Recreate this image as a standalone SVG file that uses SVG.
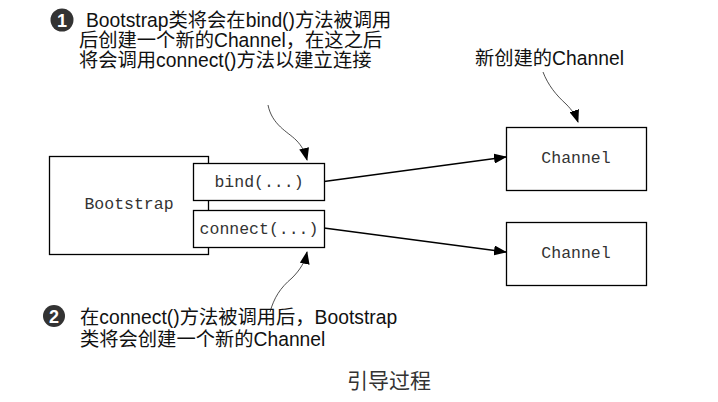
<svg xmlns="http://www.w3.org/2000/svg" width="718" height="402" viewBox="0 0 718 402">
<defs>
<marker id="ah" markerWidth="13" markerHeight="10" refX="12" refY="5" orient="auto" markerUnits="userSpaceOnUse">
<path d="M0,0 L13,5 L0,10 Z" fill="#000"/>
</marker>
<style>
.box{fill:#fff;stroke:#000;stroke-width:1.3}
.mono{font-family:"Liberation Mono","Courier New",monospace;font-size:16.5px;fill:#333;text-anchor:middle}
.note{font-family:"Liberation Sans",Arial,"Noto Sans CJK SC",sans-serif;font-size:19.3px;fill:#111}
.conn{fill:none;stroke:#000;stroke-width:1.3}
.call{fill:none;stroke:#222;stroke-width:0.8}
.num{font-family:"Liberation Sans",Arial,sans-serif;font-size:18px;font-weight:bold;fill:#fff;text-anchor:middle}
</style>
</defs>
<rect width="718" height="402" fill="#fff"/>
<g id="bootstrap">
<rect class="box" x="49.5" y="156.5" width="159" height="98"/>
<text class="mono" x="129" y="209">Bootstrap</text>
</g>
<g id="bind">
<rect class="box" x="193.5" y="163.5" width="131" height="37"/>
<text class="mono" x="259" y="187">bind(...)</text>
</g>
<g id="connect">
<rect class="box" x="193.5" y="210.5" width="131" height="37"/>
<text class="mono" x="259" y="234">connect(...)</text>
</g>
<g id="channel1">
<rect class="box" x="506.5" y="127.5" width="140" height="63"/>
<text class="mono" x="576" y="163">Channel</text>
</g>
<g id="channel2">
<rect class="box" x="506.5" y="222.5" width="140" height="63"/>
<text class="mono" x="576" y="258">Channel</text>
</g>
<g id="connectors">
<path class="conn" d="M324,181.5 L506,157" marker-end="url(#ah)"/>
<path class="conn" d="M324,228 L506,252" marker-end="url(#ah)"/>
<path class="call" d="M268,105 C272,125 288,132 296,140 C302,146 305,152 307,160" marker-end="url(#ah)"/>
<path class="call" d="M543,72 C548,85 556,95 566,104 C572,110 576,116 578,122" marker-end="url(#ah)"/>
<path class="call" d="M270,312 C274,298 280,288 292,278 C300,270 305,262 307,252" marker-end="url(#ah)"/>
</g>
<g id="note1">
<circle cx="62" cy="20" r="11.5" fill="#333"/>
<text class="num" x="62" y="26.5">1</text>
<text class="note" x="86" y="27">Bootstrap类将会在bind()方法被调用</text>
<text class="note" x="79" y="47">后创建一个新的Channel，在这之后</text>
<text class="note" x="79" y="67">将会调用connect()方法以建立连接</text>
</g>
<g id="note-channel">
<text class="note" x="475" y="65">新创建的Channel</text>
</g>
<g id="note2">
<circle cx="54" cy="316" r="11" fill="#333"/>
<text class="num" x="54" y="322.5">2</text>
<text class="note" x="80" y="324">在connect()方法被调用后，Bootstrap</text>
<text class="note" x="80" y="346">类将会创建一个新的Channel</text>
</g>
<text x="347" y="388" style="font-family:'Noto Sans CJK SC',sans-serif;font-size:21px;fill:#333">引导过程</text>
</svg>
